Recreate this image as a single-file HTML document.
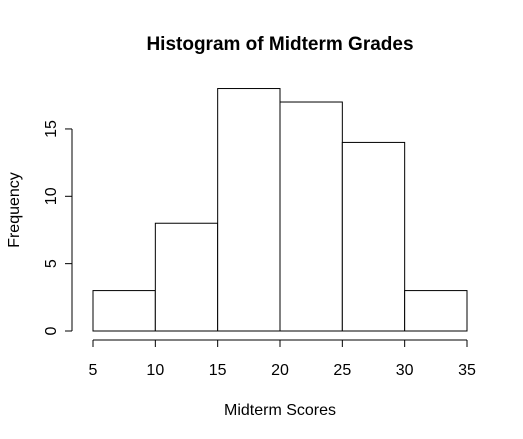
<!DOCTYPE html>
<html><head><meta charset="utf-8"><style>
body{margin:0;background:#fff;}
svg{display:block;font-family:"Liberation Sans",Arial,sans-serif;}
</style></head><body>
<svg id="chart" width="523" height="439">
<text x="280" y="50" text-anchor="middle" font-size="19" font-weight="bold">Histogram of Midterm Grades</text>
<text x="280" y="415" text-anchor="middle" font-size="16">Midterm Scores</text>
<text transform="translate(19,210) rotate(-90)" text-anchor="middle" font-size="16">Frequency</text>
<g id="bars"></g><g id="xaxis"></g><g id="yaxis"></g>
</svg>
<script>
const binEdges = [5,10,15,20,25,30,35];
const counts = [3,8,18,17,14,3];
const xTicks = [5,10,15,20,25,30,35];
const yTicks = [0,5,10,15];
const xs = v => 93 + (v-5)*(374/30);
const ys = v => 331 - v*13.47;
const NS="http://www.w3.org/2000/svg";
function mk(tag,attrs,parent){const e=document.createElementNS(NS,tag);for(const k in attrs)e.setAttribute(k,attrs[k]);parent.appendChild(e);return e;}
const bars=document.getElementById('bars');
counts.forEach((c,i)=>{
 const r=mk('rect',{x:xs(binEdges[i]),y:ys(c),width:xs(binEdges[i+1])-xs(binEdges[i]),height:ys(0)-ys(c),fill:'#fff',stroke:'#000','stroke-width':1},bars);
 
 
});
const xa=document.getElementById('xaxis');
const xl=mk('line',{x1:xs(xTicks[0]),x2:xs(xTicks[xTicks.length-1]),y1:340,y2:340,stroke:'#000'},xa);


xTicks.forEach(t=>{
 mk('line',{x1:xs(t),x2:xs(t),y1:340,y2:347,stroke:'#000'},xa);
 const tx=mk('text',{x:xs(t),y:375,'text-anchor':'middle','font-size':16},xa);
 tx.textContent=t;
 
 
});
const ya=document.getElementById('yaxis');
const yl=mk('line',{x1:72,x2:72,y1:ys(yTicks[0]),y2:ys(yTicks[yTicks.length-1]),stroke:'#000'},ya);


yTicks.forEach(t=>{
 mk('line',{x1:65,x2:72,y1:ys(t),y2:ys(t),stroke:'#000'},ya);
 const tx=mk('text',{transform:'translate(56,'+ys(t)+') rotate(-90)','text-anchor':'middle','font-size':16},ya);
 tx.textContent=t;
 
 
});
</script>
</body></html>
